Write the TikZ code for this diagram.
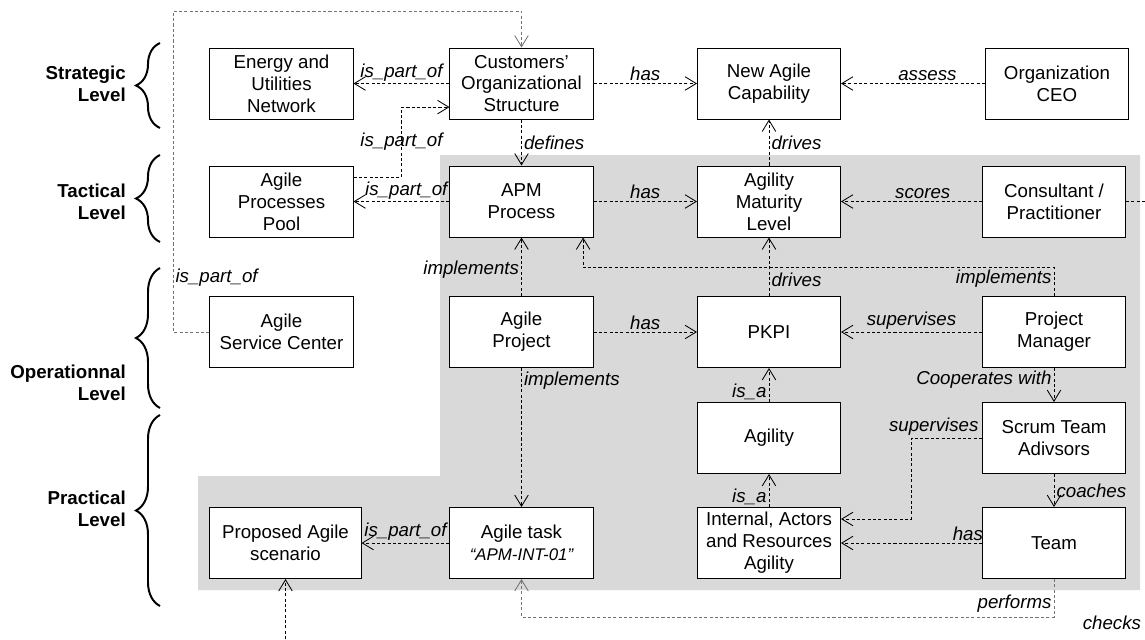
\documentclass[tikz,border=0pt]{standalone}
\usepackage{fontspec}
\setmainfont{Liberation Sans}
\usetikzlibrary{arrows.meta,decorations.pathreplacing}

\definecolor{panelGray}{gray}{0.85}
\definecolor{linkGray}{gray}{0.45}

\tikzset{
	box/.style={draw, line width=0.7pt, fill=white, align=center, inner sep=1.5pt, minimum width=3.575cm, minimum height=1.775cm, font=\fontsize{13.3}{15.6}\selectfont},
	lbl/.style={inner sep=1.5pt, font=\fontsize{13.3}{15.6}\selectfont\itshape},
	lvl/.style={anchor=east, align=right, inner sep=0pt, font=\fontsize{13.3}{15.6}\selectfont\bfseries},
	lvlbrace/.style={line width=1.4pt, decorate, decoration={brace, amplitude=0.6cm}},
	rel/.style={line width=0.6pt, dash pattern=on 2.2pt off 1.6pt, -{Straight Barb[length=2.8mm, width=3.4mm, line width=0.6pt]}}
}

\begin{document}
\begin{tikzpicture}[x=0.025cm, y=-0.025cm]
	\clip (0,0) rectangle (1145,639);
	\fill[panelGray] (440,155) -- (1140,155) -- (1140,590) -- (198,590) -- (198,476) -- (440,476) -- cycle;

	\node[lvl] (lblStrat) at (126,84) {Strategic\\Level};
	\node[lvl] (lblTact) at (126,202) {Tactical\\Level};
	\node[lvl] (lblOper) at (126,383) {Operationnal\\Level};
	\node[lvl] (lblPract) at (126,509) {Practical\\Level};
	\draw[lvlbrace] (160,128) -- (160,43);
	\draw[lvlbrace] (160,242) -- (160,155);
	\draw[lvlbrace] (160,408) -- (160,268);
	\draw[lvlbrace] (160,606) -- (160,415);

	\node[box] (EnergyNet) at (281.5,83.5) {Energy and\\Utilities\\Network};
	\node[box] (CustStruct) at (521.5,83.5) {Customers’\\Organizational\\Structure};
	\node[box] (NewCap) at (769,83.5) {New Agile\\Capability};
	\node[box] (OrgCEO) at (1057,83.5) {Organization\\CEO};

	\node[box] (ProcPool) at (281.5,201.5) {Agile\\Processes\\Pool};
	\node[box] (APMProc) at (521.5,201.5) {APM\\Process};
	\node[box] (MatLevel) at (769,201.5) {Agility\\Maturity\\Level};
	\node[box] (Consultant) at (1054,201.5) {Consultant /\\Practitioner};

	\node[box] (ServCenter) at (281.5,332) {Agile\\Service Center};
	\node[box] (AgileProj) at (521.5,332) {Agile\\Project};
	\node[box] (PKPI) at (769,332) {PKPI};
	\node[box] (ProjMgr) at (1054,332) {Project\\Manager};

	\node[box] (Agility) at (769,438) {Agility};
	\node[box] (ScrumAdv) at (1054,438) {Scrum Team\\Adivsors};

	\node[box, minimum width=3.775cm] (Proposed) at (285.5,543) {Proposed Agile\\scenario};
	\node[box] (AgileTask) at (521.5,543) {Agile task\\{\fontsize{12}{15.6}\selectfont\itshape “APM-INT-01”}};
	\node[box] (ResAgility) at (769,543) {Internal, Actors\\and Resources\\Agility};
	\node[box] (Team) at (1054,543) {Team};

	\draw[rel] (CustStruct) -- (EnergyNet) node[midway, above, lbl] (lblPart1) {is\_part\_of};
	\draw[rel] ([yshift=0.61cm]ProcPool.east) -| ([xshift=-1.2cm, yshift=-0.59cm]CustStruct.west) node[pos=0.75, lbl] (lblPart2) {is\_part\_of} -- ([yshift=-0.59cm]CustStruct.west);
	\draw[rel] (APMProc) -- (ProcPool) node[pos=0.45, above, lbl] (lblPart3) {is\_part\_of};
	\draw[rel, linkGray] (ServCenter.west) -- (173,332) -- node[pos=0.17, right, lbl, black] (lblPart4) {is\_part\_of} (173,11) -- (521.5,11) -- (CustStruct.north);
	\draw[rel] (CustStruct) -- (NewCap) node[midway, above, lbl] (lblHas1) {has};
	\draw[rel] (OrgCEO) -- (NewCap) node[pos=0.4, above, lbl] (lblAssess) {assess};
	\draw[rel] (CustStruct) -- (APMProc) node[midway, right, lbl] (lblDefines) {defines};

	\draw[rel] (APMProc) -- (MatLevel) node[midway, above, lbl] (lblHas2) {has};
	\draw[rel] (Consultant) -- (MatLevel) node[pos=0.42, above, lbl] (lblScores) {scores};
	\draw[rel] (Consultant.east) -- (1160,201.5) -- (1160,650) -- node[pos=0.055, above=13pt, lbl] (lblChecks) {checks} (285.5,650) -- (Proposed.south);
	\draw[rel] (MatLevel) -- (NewCap) node[midway, right, lbl] (lblDrives1) {drives};

	\draw[rel] (AgileProj) -- (APMProc) node[pos=0.45, left, lbl] (lblImpl1) {implements};
	\draw[rel] (ProjMgr.north) |- ([xshift=1.54cm, yshift=-0.75cm]APMProc.south) node[pos=0.3, left, lbl] (lblImpl2) {implements} -- ([xshift=1.54cm]APMProc.south);
	\draw[rel] (AgileProj) -- (PKPI) node[midway, above, lbl] (lblHas3) {has};
	\draw[rel] (ProjMgr) -- (PKPI) node[midway, above, lbl] (lblSuperv1) {supervises};
	\draw[rel] (PKPI) -- (MatLevel) node[pos=0.27, right, lbl] (lblDrives2) {drives};

	\draw[rel] (AgileProj) -- (AgileTask) node[pos=0.09, right, lbl] (lblImpl3) {implements};
	\draw[rel] (Agility) -- (PKPI) node[pos=0.3, left, lbl] (lblIsA1) {is\_a};
	\draw[rel] (ResAgility) -- (Agility) node[pos=0.3, left, lbl] (lblIsA2) {is\_a};
	\draw[rel] (ProjMgr) -- (ScrumAdv) node[pos=0.35, left, lbl] (lblCoop) {Cooperates with};
	\draw[rel] (ScrumAdv.west) -| ([xshift=1.75cm, yshift=0.6cm]ResAgility.east) node[pos=0.34, above, lbl] (lblSuperv2) {supervises} -- ([yshift=0.6cm]ResAgility.east);
	\draw[rel] (ScrumAdv) -- (Team) node[midway, right, lbl] (lblCoach) {coaches};
	\draw[rel] (Team) -- (ResAgility) node[pos=0.1, above, lbl] (lblHas4) {has};
	\draw[rel] (AgileTask) -- (Proposed) node[midway, above, lbl] (lblPart5) {is\_part\_of};
	\draw[rel, linkGray] (Team.south) |- ([yshift=-0.95cm]AgileTask.south) node[pos=0.32, left, lbl, black] (lblPerf) {performs} -- (AgileTask.south);
\end{tikzpicture}
\end{document}
